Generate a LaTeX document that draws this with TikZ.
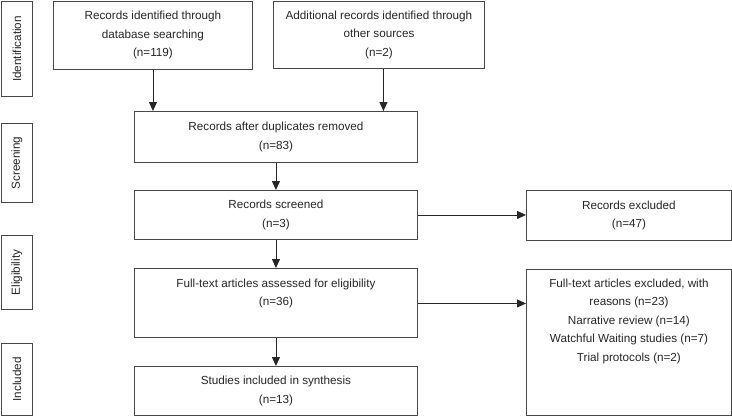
\documentclass[tikz,border=0pt]{standalone}
\usepackage{fontspec}
\setmainfont{Liberation Sans}
\usetikzlibrary{arrows.meta}
\begin{document}
\begin{tikzpicture}[x=1pt,y=-1pt,
  boxstyle/.style={draw=black!72, line width=0.9pt, rectangle, inner sep=0pt, anchor=north west,
    align=center, text=black!85, font=\fontsize{11.7}{18.5}\selectfont},
  toptext/.style={anchor=north, inner sep=0pt, align=center, text=black!85, font=\fontsize{11.7}{18.5}\selectfont},
  sidestyle/.style={draw=black!72, line width=0.9pt, rectangle, inner sep=0pt, anchor=north west,
    minimum width=31pt, text=black!85, font=\fontsize{11.7}{14}\selectfont},
  sidetext/.style={rotate=90, inner sep=0pt, text=black!85, font=\fontsize{11.7}{14}\selectfont},
  arr/.style={draw=black!85, line width=0.9pt, -{Triangle[length=9pt,width=8pt]}}
]
\useasboundingbox (0,0) rectangle (732,416);

% phase boxes
\node[sidestyle, minimum height=95pt] (sid) at (1,1) {};
\node[sidetext] (sidt) at (sid.center) {Identification};
\node[sidestyle, minimum height=79pt] (sscr) at (1,123) {};
\node[sidetext] (sscrt) at (sscr.center) {Screening};
\node[sidestyle, minimum height=74pt] (selig) at (1,235) {};
\node[sidetext] (seligt) at (selig.center) {Eligibility};
\node[sidestyle, minimum height=72pt] (sinc) at (1,343) {};
\node[sidetext] (sinct) at (sinc.center) {Included};

% main boxes
\node[boxstyle, minimum width=199pt, minimum height=68pt] (b1) at (53,1)
  {Records identified through\\database searching\\(n=119)};
\node[boxstyle, minimum width=211pt, minimum height=67pt] (b2) at (273,1)
  {Additional records identified through\\other sources\\(n=2)};
\node[boxstyle, minimum width=283pt, minimum height=51pt] (dup) at (134,111)
  {Records after duplicates removed\\(n=83)};
\node[boxstyle, minimum width=283pt, minimum height=49pt] (scr) at (134,190)
  {Records screened\\(n=3)};
\node[boxstyle, minimum width=283pt, minimum height=69pt] (elig) at (134,268) {};
\node[toptext] (eligt) at ([yshift=-10.5pt]elig.north)
  {Full-text articles assessed for eligibility\\(n=36)};
\node[boxstyle, minimum width=283pt, minimum height=49pt] (inc) at (134,366)
  {Studies included in synthesis\\(n=13)};
\node[boxstyle, minimum width=205pt, minimum height=50pt] (exc) at (526,190)
  {Records excluded\\(n=47)};
\node[boxstyle, minimum width=205pt, minimum height=146pt] (fte) at (526,269) {};
\node[toptext] (ftet) at ([yshift=-9.5pt]fte.north)
  {Full-text articles excluded, with\\reasons (n=23)\\Narrative review (n=14)\\Watchful Waiting studies (n=7)\\Trial protocols (n=2)};

% connectors
\draw[arr] (b1.south) -- (b1.south |- dup.north);
\draw[arr] ([xshift=4.5pt]b2.south) -- ([xshift=4.5pt]b2.south |- dup.north);
\draw[arr] (dup.south) -- (scr.north);
\draw[arr] (scr.south) -- (elig.north);
\draw[arr] (elig.south) -- (inc.north);
\draw[arr] (scr.east) -- (scr.east -| exc.west);
\draw[arr] ([yshift=-0.5pt]elig.east) -- ([yshift=-0.5pt]elig.east -| fte.west);
\end{tikzpicture}
\end{document}
